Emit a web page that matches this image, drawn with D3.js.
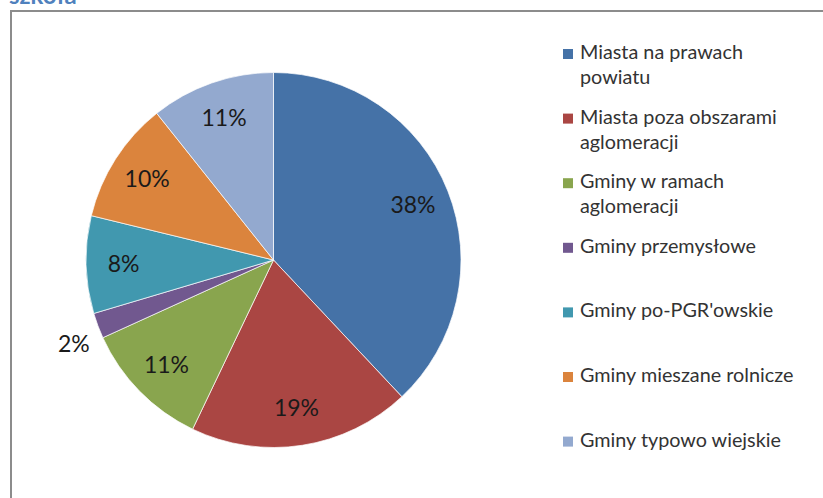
<!DOCTYPE html>
<head>
<meta charset="utf-8">
<style>
body { margin: 0; background: #fff; }
text { font-family: Lato, "Open Sans", sans-serif; }
</style>
</head>
<body>
<script src="https://cdn.jsdelivr.net/npm/d3@7"></script>
<script>

var categories = [
  ["Miasta na prawach", "powiatu"],
  ["Miasta poza obszarami", "aglomeracji"],
  ["Gminy w ramach", "aglomeracji"],
  ["Gminy przemysłowe"],
  ["Gminy po-PGR'owskie"],
  ["Gminy mieszane rolnicze"],
  ["Gminy typowo wiejskie"]
];
var values = [38.0, 19.1, 11.1, 2.2, 8.4, 10.5, 10.7];
var labels = ["38%", "19%", "11%", "2%", "8%", "10%", "11%"];
var colors = ["#4572A7", "#AA4643", "#89A54E", "#71588F", "#4198AF", "#DB843D", "#93A9CF"];

var width = 823, height = 498;

var svg = d3.select("body").append("svg")
    .attr("width", width)
    .attr("height", height);

// title, cut off at the top
svg.append("text")
    .attr("x", 9)
    .attr("y", 4)
    .style("font-size", "24px")
    .style("font-weight", "bold")
    .style("fill", "#4F81BD")
    .text("szkoła");

// frame
svg.append("path")
    .attr("d", "M11," + height + "V11H" + width)
    .style("fill", "none")
    .style("stroke", "#8c8c8c")
    .style("stroke-width", 2);

var cx = 273.5, cy = 260, r = 187.5;

var pie = d3.pie().sort(null).value(function(d) { return d; });
var arcs = pie(values);
var arc = d3.arc().innerRadius(0).outerRadius(r);
var labelArc = d3.arc().innerRadius(r * 0.8).outerRadius(r * 0.8);
var outArc = d3.arc().innerRadius(r * 1.16).outerRadius(r * 1.16);

var g = svg.append("g").attr("transform", "translate(" + cx + "," + cy + ")");

g.selectAll("path.slice")
    .data(arcs)
    .enter().append("path")
    .attr("class", "slice")
    .attr("d", arc)
    .style("fill", function(d, i) { return colors[i]; })
    .style("stroke", "#fff")
    .style("stroke-width", 0.7);

g.selectAll("text.lab")
    .data(arcs)
    .enter().append("text")
    .attr("class", "lab")
    .attr("transform", function(d) {
      var small = (d.endAngle - d.startAngle) < 0.2;
      var p = small ? outArc.centroid(d) : labelArc.centroid(d);
      if (small) { p[0] += 4; p[1] += 8; }
      return "translate(" + p + ")";
    })
    .attr("text-anchor", "middle")
    .attr("dy", "0.35em")
    .style("font-size", "23px")
    .style("fill", "#1a1a1a")
    .text(function(d, i) { return labels[i]; });

// legend
var legend = svg.selectAll("g.leg")
    .data(categories)
    .enter().append("g")
    .attr("class", "leg")
    .attr("transform", function(d, i) { return "translate(563," + (59 + i * 64.6) + ")"; });

legend.append("rect")
    .attr("x", 0)
    .attr("y", -10)
    .attr("width", 10)
    .attr("height", 10)
    .style("fill", function(d, i) { return colors[i]; });

legend.append("text")
    .attr("x", 17)
    .style("font-size", "19.8px")
    .style("fill", "#333")
    .selectAll("tspan")
    .data(function(d) { return d; })
    .enter().append("tspan")
    .attr("x", 17)
    .attr("dy", function(d, j) { return j ? 25 : 0; })
    .text(function(d) { return d; });

</script>
</body>
</html>
